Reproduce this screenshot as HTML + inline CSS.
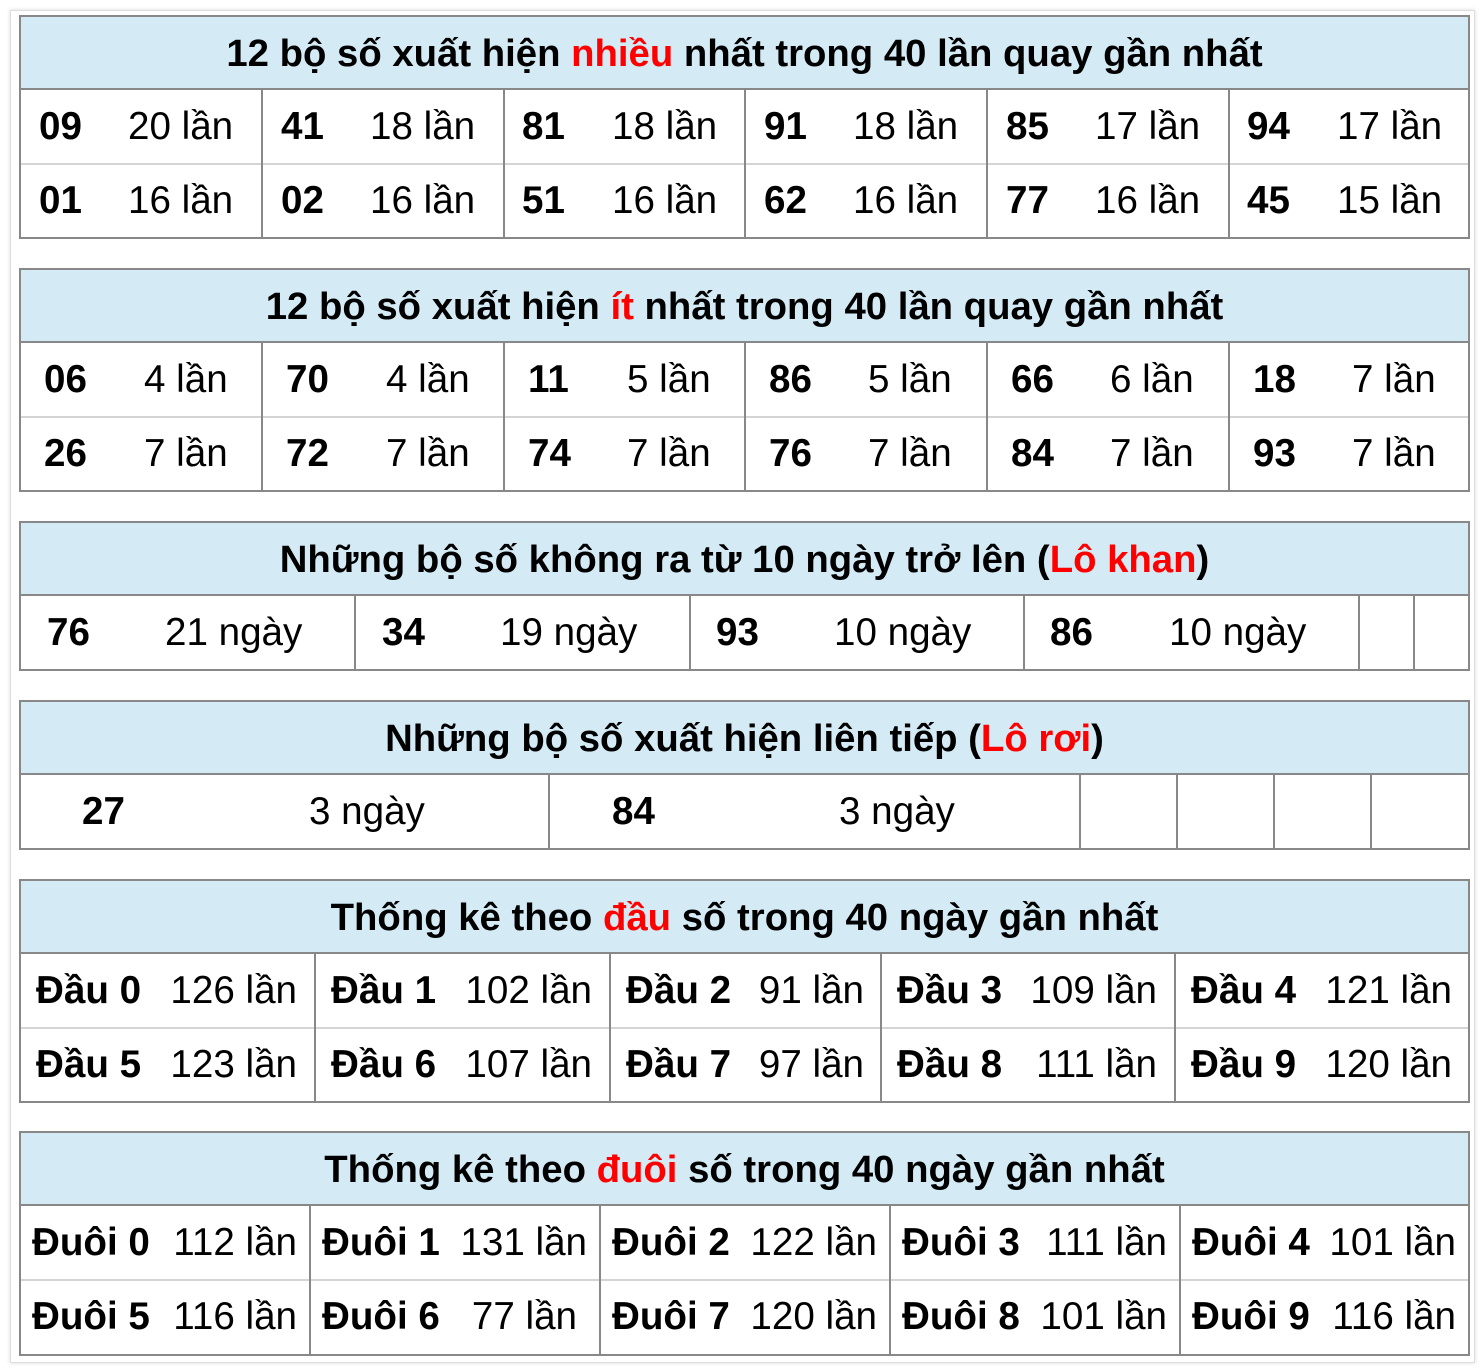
<!DOCTYPE html>
<html><head><meta charset="utf-8"><style>
*{margin:0;padding:0;box-sizing:border-box}
body{width:1484px;height:1372px;background:#fff;position:relative;overflow:hidden;font-family:"Liberation Sans",Arial,sans-serif;color:#000}
.frame{position:absolute;left:10px;top:10px;width:1465px;height:1353px;border:1px solid #ddd;box-shadow:0 0 4px rgba(0,0,0,.15)}
.box{position:absolute;left:19px;width:1451px;border:2px solid #888}
.hd{position:absolute;left:21px;width:1447px;background:#d4ebf5;border-bottom:2px solid #888;text-align:center;font-weight:bold;font-size:38.3px;white-space:nowrap}
.sep{position:absolute;left:21px;width:1447px;height:2px;background:#d4d4d4}
.vl{position:absolute;width:2px;background:#888}
.t{position:absolute;font-size:38.6px;line-height:74px;height:74px;white-space:nowrap}
.b{font-weight:bold}
.r{color:#f00}
</style></head><body>
<div class="frame"></div>

<!-- Table 1 -->
<div class="box" style="top:15px;height:224px"></div>
<div class="hd" style="top:17px;height:73px;line-height:73px">12 bộ số xuất hiện <span class="r">nhiều</span> nhất trong 40 lần quay gần nhất</div>
<div class="sep" style="top:163px"></div>
<div class="vl" style="left:261px;top:90px;height:148px"></div>
<div class="vl" style="left:503px;top:90px;height:148px"></div>
<div class="vl" style="left:744px;top:90px;height:148px"></div>
<div class="vl" style="left:986px;top:90px;height:148px"></div>
<div class="vl" style="left:1228px;top:90px;height:148px"></div>
<div class="t b" style="left:39px;top:90px">09</div><div class="t" style="left:128px;top:90px">20 lần</div>
<div class="t b" style="left:281px;top:90px">41</div><div class="t" style="left:370px;top:90px">18 lần</div>
<div class="t b" style="left:522px;top:90px">81</div><div class="t" style="left:612px;top:90px">18 lần</div>
<div class="t b" style="left:764px;top:90px">91</div><div class="t" style="left:853px;top:90px">18 lần</div>
<div class="t b" style="left:1006px;top:90px">85</div><div class="t" style="left:1095px;top:90px">17 lần</div>
<div class="t b" style="left:1247px;top:90px">94</div><div class="t" style="left:1337px;top:90px">17 lần</div>
<div class="t b" style="left:39px;top:164px">01</div><div class="t" style="left:128px;top:164px">16 lần</div>
<div class="t b" style="left:281px;top:164px">02</div><div class="t" style="left:370px;top:164px">16 lần</div>
<div class="t b" style="left:522px;top:164px">51</div><div class="t" style="left:612px;top:164px">16 lần</div>
<div class="t b" style="left:764px;top:164px">62</div><div class="t" style="left:853px;top:164px">16 lần</div>
<div class="t b" style="left:1006px;top:164px">77</div><div class="t" style="left:1095px;top:164px">16 lần</div>
<div class="t b" style="left:1247px;top:164px">45</div><div class="t" style="left:1337px;top:164px">15 lần</div>

<!-- Table 2 -->
<div class="box" style="top:268px;height:224px"></div>
<div class="hd" style="top:270px;height:73px;line-height:73px">12 bộ số xuất hiện <span class="r">ít</span> nhất trong 40 lần quay gần nhất</div>
<div class="sep" style="top:416px"></div>
<div class="vl" style="left:261px;top:343px;height:148px"></div>
<div class="vl" style="left:503px;top:343px;height:148px"></div>
<div class="vl" style="left:744px;top:343px;height:148px"></div>
<div class="vl" style="left:986px;top:343px;height:148px"></div>
<div class="vl" style="left:1228px;top:343px;height:148px"></div>
<div class="t b" style="left:44px;top:343px">06</div><div class="t" style="left:144px;top:343px">4 lần</div>
<div class="t b" style="left:286px;top:343px">70</div><div class="t" style="left:386px;top:343px">4 lần</div>
<div class="t b" style="left:528px;top:343px">11</div><div class="t" style="left:627px;top:343px">5 lần</div>
<div class="t b" style="left:769px;top:343px">86</div><div class="t" style="left:868px;top:343px">5 lần</div>
<div class="t b" style="left:1011px;top:343px">66</div><div class="t" style="left:1110px;top:343px">6 lần</div>
<div class="t b" style="left:1253px;top:343px">18</div><div class="t" style="left:1352px;top:343px">7 lần</div>
<div class="t b" style="left:44px;top:417px">26</div><div class="t" style="left:144px;top:417px">7 lần</div>
<div class="t b" style="left:286px;top:417px">72</div><div class="t" style="left:386px;top:417px">7 lần</div>
<div class="t b" style="left:528px;top:417px">74</div><div class="t" style="left:627px;top:417px">7 lần</div>
<div class="t b" style="left:769px;top:417px">76</div><div class="t" style="left:868px;top:417px">7 lần</div>
<div class="t b" style="left:1011px;top:417px">84</div><div class="t" style="left:1110px;top:417px">7 lần</div>
<div class="t b" style="left:1253px;top:417px">93</div><div class="t" style="left:1352px;top:417px">7 lần</div>

<!-- Table 3 -->
<div class="box" style="top:521px;height:150px"></div>
<div class="hd" style="top:523px;height:73px;line-height:73px">Những bộ số không ra từ 10 ngày trở lên (<span class="r">Lô khan</span>)</div>
<div class="vl" style="left:354px;top:596px;height:74px"></div>
<div class="vl" style="left:689px;top:596px;height:74px"></div>
<div class="vl" style="left:1023px;top:596px;height:74px"></div>
<div class="vl" style="left:1358px;top:596px;height:74px"></div>
<div class="vl" style="left:1413px;top:596px;height:74px"></div>
<div class="t b" style="left:47px;top:596px">76</div><div class="t" style="left:165px;top:596px">21 ngày</div>
<div class="t b" style="left:382px;top:596px">34</div><div class="t" style="left:500px;top:596px">19 ngày</div>
<div class="t b" style="left:716px;top:596px">93</div><div class="t" style="left:834px;top:596px">10 ngày</div>
<div class="t b" style="left:1050px;top:596px">86</div><div class="t" style="left:1169px;top:596px">10 ngày</div>

<!-- Table 4 -->
<div class="box" style="top:700px;height:150px"></div>
<div class="hd" style="top:702px;height:73px;line-height:73px">Những bộ số xuất hiện liên tiếp (<span class="r">Lô rơi</span>)</div>
<div class="vl" style="left:548px;top:775px;height:74px"></div>
<div class="vl" style="left:1079px;top:775px;height:74px"></div>
<div class="vl" style="left:1176px;top:775px;height:74px"></div>
<div class="vl" style="left:1273px;top:775px;height:74px"></div>
<div class="vl" style="left:1370px;top:775px;height:74px"></div>
<div class="t b" style="left:82px;top:775px">27</div><div class="t" style="left:309px;top:775px">3 ngày</div>
<div class="t b" style="left:612px;top:775px">84</div><div class="t" style="left:839px;top:775px">3 ngày</div>

<!-- Table 5 -->
<div class="box" style="top:879px;height:224px"></div>
<div class="hd" style="top:881px;height:73px;line-height:73px">Thống kê theo <span class="r">đầu</span> số trong 40 ngày gần nhất</div>
<div class="sep" style="top:1027px"></div>
<div class="vl" style="left:314px;top:954px;height:148px"></div>
<div class="vl" style="left:609px;top:954px;height:148px"></div>
<div class="vl" style="left:880px;top:954px;height:148px"></div>
<div class="vl" style="left:1174px;top:954px;height:148px"></div>
<div class="t b" style="left:36px;top:954px">Đầu 0</div><div class="t" style="right:1187px;top:954px">126 lần</div>
<div class="t b" style="left:331px;top:954px">Đầu 1</div><div class="t" style="right:892px;top:954px">102 lần</div>
<div class="t b" style="left:626px;top:954px">Đầu 2</div><div class="t" style="right:620px;top:954px">91 lần</div>
<div class="t b" style="left:897px;top:954px">Đầu 3</div><div class="t" style="right:327px;top:954px">109 lần</div>
<div class="t b" style="left:1191px;top:954px">Đầu 4</div><div class="t" style="right:32px;top:954px">121 lần</div>
<div class="t b" style="left:36px;top:1028px">Đầu 5</div><div class="t" style="right:1187px;top:1028px">123 lần</div>
<div class="t b" style="left:331px;top:1028px">Đầu 6</div><div class="t" style="right:892px;top:1028px">107 lần</div>
<div class="t b" style="left:626px;top:1028px">Đầu 7</div><div class="t" style="right:620px;top:1028px">97 lần</div>
<div class="t b" style="left:897px;top:1028px">Đầu 8</div><div class="t" style="right:327px;top:1028px">111 lần</div>
<div class="t b" style="left:1191px;top:1028px">Đầu 9</div><div class="t" style="right:32px;top:1028px">120 lần</div>

<!-- Table 6 -->
<div class="box" style="top:1131px;height:225px"></div>
<div class="hd" style="top:1133px;height:73px;line-height:73px">Thống kê theo <span class="r">đuôi</span> số trong 40 ngày gần nhất</div>
<div class="sep" style="top:1279px"></div>
<div class="vl" style="left:309px;top:1206px;height:149px"></div>
<div class="vl" style="left:599px;top:1206px;height:149px"></div>
<div class="vl" style="left:889px;top:1206px;height:149px"></div>
<div class="vl" style="left:1179px;top:1206px;height:149px"></div>
<div class="t b" style="left:32px;top:1206px">Đuôi 0</div><div class="t" style="right:1187px;top:1206px">112 lần</div>
<div class="t b" style="left:322px;top:1206px">Đuôi 1</div><div class="t" style="right:897px;top:1206px">131 lần</div>
<div class="t b" style="left:612px;top:1206px">Đuôi 2</div><div class="t" style="right:607px;top:1206px">122 lần</div>
<div class="t b" style="left:902px;top:1206px">Đuôi 3</div><div class="t" style="right:317px;top:1206px">111 lần</div>
<div class="t b" style="left:1192px;top:1206px">Đuôi 4</div><div class="t" style="right:28px;top:1206px">101 lần</div>
<div class="t b" style="left:32px;top:1280px">Đuôi 5</div><div class="t" style="right:1187px;top:1280px">116 lần</div>
<div class="t b" style="left:322px;top:1280px">Đuôi 6</div><div class="t" style="right:907px;top:1280px">77 lần</div>
<div class="t b" style="left:612px;top:1280px">Đuôi 7</div><div class="t" style="right:607px;top:1280px">120 lần</div>
<div class="t b" style="left:902px;top:1280px">Đuôi 8</div><div class="t" style="right:317px;top:1280px">101 lần</div>
<div class="t b" style="left:1192px;top:1280px">Đuôi 9</div><div class="t" style="right:28px;top:1280px">116 lần</div>
</body></html>
